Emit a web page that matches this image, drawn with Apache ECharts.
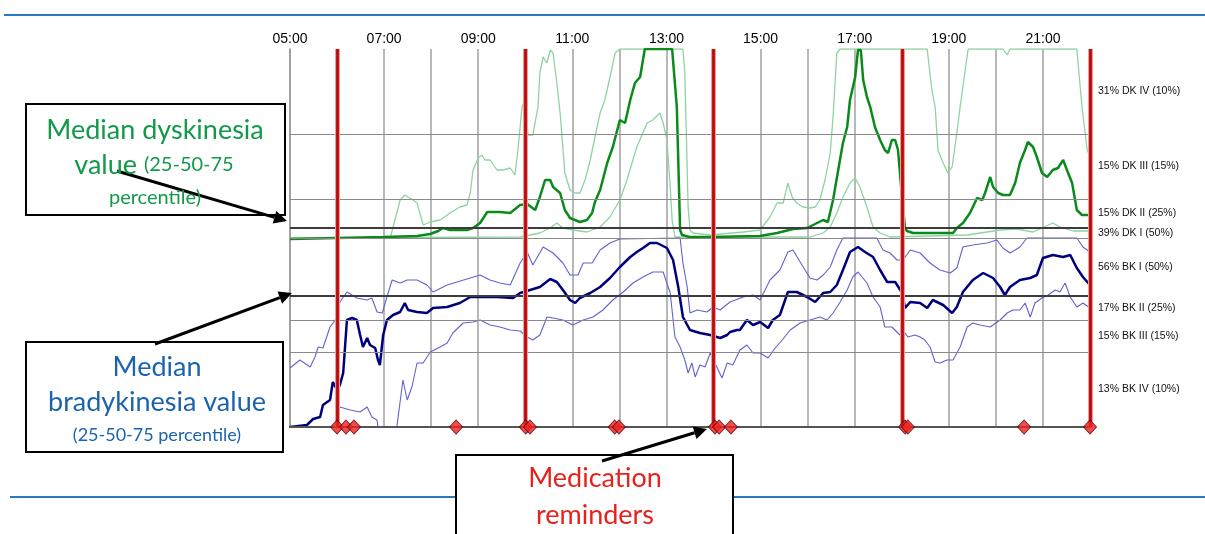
<!DOCTYPE html>
<html><head><meta charset="utf-8">
<script src="https://cdn.jsdelivr.net/npm/echarts@6/dist/echarts.min.js"></script>
<style>html,body{margin:0;padding:0;background:#fff}#c{width:1205px;height:534px}</style>
</head><body><div id="c"></div>
<script>
// ---- tick labels ----
const tickHours = [5, 7, 9, 11, 13, 15, 17, 19, 21];
const tickLabels = ['05:00','07:00','09:00','11:00','13:00','15:00','17:00','19:00','21:00'];
const rightLabels = ['31% DK IV (10%)','15% DK III (15%)','15% DK II (25%)','39% DK I (50%)','56% BK I (50%)','17% BK II (25%)','15% BK III (15%)','13% BK IV (10%)'];
const rightLabelPos = [335.5, 260.5, 213.5, 194, 160, 119, 91, 37.5];
// class boundaries (y units of the chart scale, 0..378)
const classLines = [293, 228, 199, 189, 131, 107, 75];
const darkClassLines = [199, 131];
// medication reminders
const reminderLines = [6, 10, 14, 18, 22];
const medTimes = [6.00,6.19,6.36,8.53,10.01,10.10,11.90,11.99,14.03,14.12,14.37,18.07,18.13,20.60,22.00];

// ---- series: [hour, level] ----
const dkMed = [[5.00,188],[6.00,189],[7.00,190],[7.70,191],[7.98,193],[8.15,196],[8.25,199],[8.40,197],[8.76,197],[8.89,199],[9.04,204],[9.19,215],[9.46,215],[9.68,214],[9.89,222],[10.04,223],[10.21,217],[10.31,230],[10.42,247],[10.53,247],[10.59,240],[10.74,234],[10.84,217],[10.95,209],[11.16,205],[11.31,207],[11.42,214],[11.48,225],[11.59,237],[11.74,264],[11.86,280],[12.01,307],[12.12,304],[12.23,327],[12.33,344],[12.44,350],[12.54,378],[13.12,378],[13.22,320],[13.29,197],[13.33,192],[13.50,190],[13.93,190],[14.99,191],[15.35,194],[15.69,198],[15.99,199],[16.20,204],[16.33,207],[16.43,205],[16.54,227],[16.65,257],[16.75,284],[16.84,300],[16.90,327],[17.01,350],[17.07,377],[17.13,377],[17.18,347],[17.26,330],[17.33,320],[17.43,300],[17.54,287],[17.64,277],[17.71,274],[17.79,287],[17.86,287],[17.92,277],[18.01,227],[18.07,199],[18.11,196],[18.24,194],[19.09,194],[19.17,199],[19.30,204],[19.45,214],[19.60,229],[19.71,227],[19.77,234],[19.88,250],[19.94,240],[20.05,234],[20.15,232],[20.30,232],[20.41,244],[20.51,264],[20.62,277],[20.68,285],[20.79,280],[20.87,270],[20.98,254],[21.09,250],[21.21,257],[21.32,259],[21.43,267],[21.51,257],[21.62,244],[21.72,217],[21.83,212],[21.96,212],[22.00,213]];
const dkP75 = [[5.00,189],[7.13,189],[7.34,227],[7.44,232],[7.61,227],[7.70,224],[7.83,202],[7.98,205],[8.19,207],[8.40,214],[8.61,220],[8.76,222],[8.83,234],[8.89,257],[9.00,269],[9.08,272],[9.14,267],[9.25,267],[9.40,257],[9.53,257],[9.68,259],[9.78,252],[9.85,280],[9.93,320],[9.99,327],[10.06,292],[10.16,292],[10.27,320],[10.31,354],[10.38,370],[10.46,364],[10.53,377],[10.59,374],[10.67,344],[10.74,314],[10.84,254],[10.95,237],[11.06,234],[11.16,234],[11.27,247],[11.38,267],[11.48,290],[11.59,314],[11.69,327],[11.80,350],[11.91,374],[12.01,378],[13.35,378],[13.39,354],[13.46,220],[13.50,197],[13.56,194],[13.93,192],[14.63,195],[14.99,197],[15.20,210],[15.35,224],[15.48,224],[15.58,244],[15.67,230],[15.77,224],[15.90,220],[16.05,219],[16.16,220],[16.26,227],[16.37,247],[16.48,274],[16.54,310],[16.62,374],[16.69,378],[18.54,378],[18.64,337],[18.71,320],[18.77,277],[18.88,264],[18.98,254],[19.07,260],[19.17,294],[19.24,320],[19.34,354],[19.41,378],[20.15,378],[20.24,372],[20.30,378],[21.72,378],[21.83,320],[21.94,277],[22.00,270]];
const dkP25 = [[5.00,189],[9.89,190],[10.31,194],[10.53,199],[10.67,204],[10.80,199],[11.01,197],[11.31,195],[11.59,200],[11.80,210],[12.01,227],[12.16,247],[12.37,280],[12.59,304],[12.71,307],[12.86,314],[12.93,304],[13.01,287],[13.08,240],[13.12,207],[13.18,190],[16.05,190],[16.33,194],[16.48,200],[16.62,214],[16.75,230],[16.90,244],[17.01,249],[17.11,240],[17.26,220],[17.39,200],[17.54,194],[17.75,190],[19.39,192],[20.09,197],[20.45,198],[20.79,195],[21.21,204],[21.36,200],[21.64,196],[22.00,196]];
const bkMed = [[5.00,0],[5.36,2],[5.49,8],[5.64,10],[5.70,22],[5.85,27],[5.91,45],[6.00,37],[6.06,42],[6.13,54],[6.21,107],[6.32,109],[6.42,107],[6.49,92],[6.55,80],[6.64,89],[6.70,82],[6.81,79],[6.87,67],[6.91,62],[6.98,92],[7.06,107],[7.19,112],[7.34,115],[7.44,124],[7.51,117],[7.70,115],[7.91,114],[8.04,119],[8.34,120],[8.61,124],[8.83,130],[9.04,130],[9.40,130],[9.74,129],[9.89,134],[10.10,137],[10.31,140],[10.53,148],[10.67,145],[10.80,137],[10.95,127],[11.06,124],[11.16,129],[11.38,134],[11.59,140],[11.80,149],[12.01,160],[12.23,170],[12.37,175],[12.50,179],[12.65,184],[12.80,184],[13.01,179],[13.14,167],[13.25,140],[13.35,110],[13.50,97],[13.71,94],[13.93,92],[14.07,90],[14.14,89],[14.29,92],[14.35,95],[14.50,97],[14.56,97],[14.71,107],[14.84,102],[14.99,105],[15.16,99],[15.26,107],[15.41,112],[15.58,135],[15.77,135],[15.99,130],[16.16,125],[16.33,134],[16.48,135],[16.62,142],[16.75,157],[16.90,175],[17.07,180],[17.22,175],[17.39,170],[17.54,157],[17.69,145],[17.86,145],[18.01,134],[18.07,119],[18.18,125],[18.39,124],[18.54,119],[18.66,127],[18.88,122],[19.07,114],[19.17,120],[19.30,135],[19.51,147],[19.73,154],[19.94,149],[20.09,140],[20.19,132],[20.30,140],[20.51,147],[20.73,149],[20.87,152],[21.00,169],[21.21,172],[21.43,170],[21.58,172],[21.72,159],[21.85,150],[22.00,142]];
const bkP75 = [[5.00,59],[5.21,67],[5.43,60],[5.53,70],[5.60,80],[5.70,79],[5.85,100],[5.96,107],[6.06,125],[6.21,135],[6.42,129],[6.64,127],[6.74,129],[6.85,115],[6.96,114],[7.06,130],[7.17,147],[7.34,144],[7.49,147],[7.70,147],[7.91,142],[8.04,135],[8.34,142],[8.55,145],[8.83,149],[9.04,152],[9.25,147],[9.46,144],[9.68,142],[9.89,164],[10.04,175],[10.16,162],[10.38,180],[10.59,174],[10.80,164],[10.95,152],[11.12,152],[11.23,164],[11.42,164],[11.59,177],[11.80,184],[12.01,188],[13.29,189],[13.35,164],[13.44,140],[13.50,114],[13.65,117],[13.86,115],[13.99,120],[14.14,117],[14.35,125],[14.63,130],[14.84,132],[14.99,127],[15.20,147],[15.41,157],[15.58,175],[15.69,177],[15.84,165],[16.05,149],[16.20,147],[16.33,152],[16.48,160],[16.62,177],[16.75,189],[17.47,189],[17.60,177],[17.75,174],[17.90,167],[18.03,167],[18.18,177],[18.39,174],[18.60,164],[18.81,157],[19.03,154],[19.17,159],[19.30,180],[19.51,182],[19.81,184],[20.02,187],[20.15,179],[20.30,174],[20.41,177],[20.51,180],[20.66,189],[21.72,189],[21.85,180],[22.00,175]];
const bkP25 = [[5.00,0],[5.96,0],[6.00,14],[6.06,20],[6.28,17],[6.49,15],[6.64,20],[6.74,10],[6.85,7],[6.87,0],[7.27,0],[7.40,47],[7.49,27],[7.59,40],[7.70,64],[7.83,64],[7.98,75],[8.19,80],[8.34,84],[8.46,94],[8.68,104],[8.89,105],[9.04,107],[9.25,102],[9.46,100],[9.68,97],[9.89,96],[10.04,90],[10.16,87],[10.31,92],[10.46,110],[10.59,109],[10.80,107],[11.01,102],[11.23,107],[11.44,110],[11.65,117],[11.86,127],[12.08,135],[12.29,144],[12.50,150],[12.71,155],[12.93,155],[13.08,134],[13.18,90],[13.29,80],[13.39,67],[13.46,54],[13.54,64],[13.61,50],[13.71,62],[13.82,60],[13.93,74],[14.07,60],[14.18,49],[14.29,64],[14.41,62],[14.56,77],[14.71,82],[14.84,74],[14.99,74],[15.16,69],[15.31,79],[15.46,87],[15.63,97],[15.84,104],[16.05,107],[16.26,110],[16.41,107],[16.54,114],[16.69,125],[16.84,137],[16.96,150],[17.07,155],[17.26,144],[17.39,130],[17.54,120],[17.64,100],[17.79,100],[17.96,92],[18.07,94],[18.13,90],[18.28,92],[18.39,90],[18.49,87],[18.60,80],[18.71,65],[18.81,64],[18.96,67],[19.09,67],[19.24,80],[19.39,100],[19.51,104],[19.66,102],[19.88,100],[20.09,107],[20.24,114],[20.36,117],[20.51,117],[20.62,124],[20.73,110],[20.83,124],[20.98,129],[21.11,132],[21.26,137],[21.36,135],[21.47,144],[21.58,130],[21.72,120],[21.85,124],[22.00,119]];

const chart = echarts.init(document.getElementById('c'), null, {renderer: 'canvas'});

function lineSeries(name, data, color, width, z) {
  return {name, type: 'line', data, symbol: 'none', showSymbol: false, z,
    lineStyle: {color, width}, itemStyle: {color}, silent: true, animation: false};
}
function arrow(x1, y1, x2, y2) {
  const dx = x2 - x1, dy = y2 - y1, L = Math.hypot(dx, dy);
  const ux = dx / L, uy = dy / L, hl = 13, hw = 6.5;
  const bx = x2 - ux * hl, by = y2 - uy * hl;
  return [
    {type: 'line', shape: {x1, y1, x2: bx, y2: by}, style: {stroke: '#000', lineWidth: 3}, z: 100},
    {type: 'polygon', shape: {points: [[x2, y2], [bx - uy * hw, by + ux * hw], [bx + uy * hw, by - ux * hw]]}, style: {fill: '#000'}, z: 100}
  ];
}
const font = 'Lato, "Open Sans", sans-serif';
function txt(t, x, y, size, color) {
  return {type: 'text', x, y, z: 101, style: {text: t, font: size + 'px ' + font, fill: color, align: 'center', verticalAlign: 'middle'}};
}
const green = '#12994a', blue = '#1c63ae', red = '#e3231c';

const option = {
  animation: false,
  backgroundColor: '#fff',
  grid: {left: 290, right: 115, top: 49, bottom: 107},
  xAxis: {
    type: 'value', min: 5, max: 22, interval: 1, position: 'top',
    axisLine: {show: true, lineStyle: {color: '#3a3a3a', width: 2}},
    axisTick: {show: false},
    axisLabel: {
      formatter: v => { const i = tickHours.indexOf(v); return i >= 0 ? tickLabels[i] : ''; },
      color: '#000', fontSize: 14, fontFamily: '"Liberation Sans", Arial', margin: 3
    },
    splitLine: {show: true, lineStyle: {color: '#a0a0a0', width: 1.5}}
  },
  yAxis: [
    {type: 'value', min: 0, max: 378, position: 'left',
      axisLine: {show: true, lineStyle: {color: '#9a9a9a', width: 1.5}},
      axisTick: {show: false}, axisLabel: {show: false}, splitLine: {show: false}},
    {type: 'value', min: 0, max: 378, position: 'right',
      axisLine: {show: false}, axisTick: {show: false}, splitLine: {show: false},
      axisLabel: {
        customValues: rightLabelPos,
        formatter: v => { let best = 0; rightLabelPos.forEach((p, i) => { if (Math.abs(p - v) < Math.abs(rightLabelPos[best] - v)) best = i; }); return rightLabels[best]; },
        color: '#111', fontSize: 10.5, fontFamily: '"Liberation Sans", Arial', margin: 8
      }}
  ],
  series: [
    {type: 'line', data: [[5, 0]], symbol: 'none', lineStyle: {opacity: 0}, silent: true, z: 1,
      markLine: {silent: true, symbol: 'none', animation: false, label: {show: false},
        data: classLines.map(v => ({yAxis: v, lineStyle: darkClassLines.includes(v)
          ? {color: '#3c3c3c', width: 2, type: 'solid'} : {color: '#8a8a8a', width: 1.2, type: 'solid'}}))
          .concat([{yAxis: 0, lineStyle: {color: '#555', width: 2, type: 'solid'}}])}},
    lineSeries('DK 75th', dkP75, '#8fd3a0', 1.3, 3),
    lineSeries('DK 25th', dkP25, '#8fd3a0', 1.3, 3),
    lineSeries('BK 75th', bkP75, '#6262d0', 1.1, 3),
    lineSeries('BK 25th', bkP25, '#6262d0', 1.1, 3),
    lineSeries('DK median', dkMed, '#0b8a1c', 2.5, 4),
    lineSeries('BK median', bkMed, '#00007e', 2.5, 4),
    {type: 'line', data: [[5, 0]], symbol: 'none', lineStyle: {opacity: 0}, silent: true, z: 6,
      markLine: {silent: true, symbol: 'none', animation: false, label: {show: false},
        data: reminderLines.map(h => ({xAxis: h, lineStyle: {color: '#f09a9a', width: 5, type: 'solid'}}))
          .concat(reminderLines.map(h => ({xAxis: h, lineStyle: {color: '#b80c0c', width: 2.8, type: 'solid'}})))}},
    {type: 'scatter', data: medTimes.map(t => [t, 0]), symbol: 'diamond', symbolSize: [13, 14], clip: false, z: 8,
      itemStyle: {color: '#f02222', borderColor: '#5a0000', borderWidth: 1}, silent: true}
  ],
  graphic: [
    {type: 'line', shape: {x1: 4, y1: 15, x2: 1205, y2: 15}, style: {stroke: '#2a78c2', lineWidth: 2}, z: 50},
    {type: 'line', shape: {x1: 10, y1: 497, x2: 1205, y2: 497}, style: {stroke: '#2a78c2', lineWidth: 2}, z: 50},
    {type: 'rect', shape: {x: 26, y: 104, width: 259, height: 111}, style: {fill: '#fff', stroke: '#000', lineWidth: 2}, z: 90},
    txt('Median dyskinesia', 155, 130, 27, green),
    {type: 'text', x: 154, y: 165, z: 101, style: {text: '{a|value }{b|(25-50-75}', align: 'center', verticalAlign: 'middle',
      rich: {a: {font: '27px ' + font, fill: green, fontSize: 27, fontFamily: font, color: green},
             b: {font: '20px ' + font, fill: green, fontSize: 20, fontFamily: font, color: green}}}},
    txt('percentile)', 155, 198, 20, green),
    {type: 'rect', shape: {x: 26, y: 342, width: 257, height: 110}, style: {fill: '#fff', stroke: '#000', lineWidth: 2}, z: 90},
    txt('Median', 157, 367, 27, blue),
    txt('bradykinesia value', 157, 402, 27, blue),
    txt('(25-50-75 percentile)', 157, 435, 18, blue),
    {type: 'rect', shape: {x: 456, y: 455, width: 277, height: 95}, style: {fill: '#fff', stroke: '#000', lineWidth: 2}, z: 90},
    txt('Medication', 595, 478, 27, red),
    txt('reminders', 595, 515, 27, red),
    ...arrow(117, 171, 287, 221),
    ...arrow(155, 344, 292, 293),
    ...arrow(602, 461, 707, 429)
  ]
};
chart.setOption(option);
</script></body></html>
